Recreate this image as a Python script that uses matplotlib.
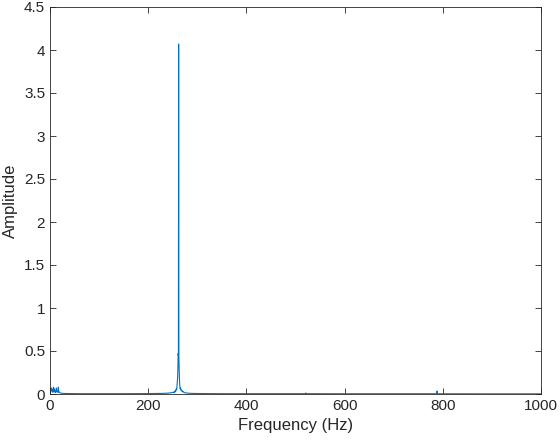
import numpy as np
import matplotlib.pyplot as plt

# spectrum (frequency in Hz, amplitude)
freq = [0, 1, 2, 3, 4, 5, 6, 7, 8, 9, 10, 11, 12, 13, 14, 15, 16, 17, 18, 19,
        20, 22, 25, 30, 40, 60, 100, 150, 200, 230, 240, 245, 248, 250, 252,
        253, 254, 255, 256, 257, 258, 259, 260, 260.5, 261, 261.5, 262, 262.5,
        263, 263.5, 264, 265, 266, 267, 268, 269, 270, 271, 272, 274, 276,
        279, 285, 295, 320, 350, 400, 500, 520, 521, 522, 600, 700, 787, 788,
        789, 800, 900, 1000]
amp = [0.02, 0.06, 0.03, 0.07, 0.04, 0.05, 0.02, 0.08, 0.03, 0.06, 0.02, 0.04,
       0.02, 0.07, 0.03, 0.03, 0.02, 0.08, 0.02, 0.02, 0.015, 0.01, 0.008,
       0.006, 0.005, 0.004, 0.004, 0.004, 0.005, 0.007, 0.01, 0.013, 0.016,
       0.02, 0.015, 0.028, 0.02, 0.04, 0.03, 0.06, 0.05, 0.12, 0.2, 0.3, 0.47,
       0.45, 4.07, 0.45, 0.3, 0.2, 0.12, 0.06, 0.07, 0.04, 0.045, 0.03, 0.035,
       0.022, 0.025, 0.016, 0.013, 0.011, 0.008, 0.006, 0.005, 0.004, 0.004,
       0.004, 0.004, 0.012, 0.004, 0.003, 0.003, 0.003, 0.035, 0.003, 0.003,
       0.002, 0.002]

xticks = [0, 200, 400, 600, 800, 1000]
yticks = [0, 0.5, 1, 1.5, 2, 2.5, 3, 3.5, 4, 4.5]

plt.rcParams['font.family'] = ['Liberation Sans', 'DejaVu Sans']
dark = '#262626'

fig = plt.figure(figsize=(5.6, 4.43), dpi=100)
ax = fig.add_axes([50 / 560, 49 / 443, 491 / 560, 387 / 443])

ax.plot(freq, amp, color='#0072BD', linewidth=0.8)

ax.set_xlim(0, 1000)
ax.set_ylim(0, 4.5)
ax.set_xticks(xticks)
ax.set_yticks(yticks)
ax.set_yticklabels([f'{v:g}' for v in yticks])
ax.tick_params(direction='in', length=4, width=0.6, colors=dark,
               labelsize=11, top=True, right=True)
for s in ax.spines.values():
    s.set_color(dark)
    s.set_linewidth(0.6)

ax.set_xlabel('Frequency (Hz)', fontsize=12, color=dark)
ax.set_ylabel('Amplitude', fontsize=12, color=dark)

fig.savefig('out.png', dpi=100)
